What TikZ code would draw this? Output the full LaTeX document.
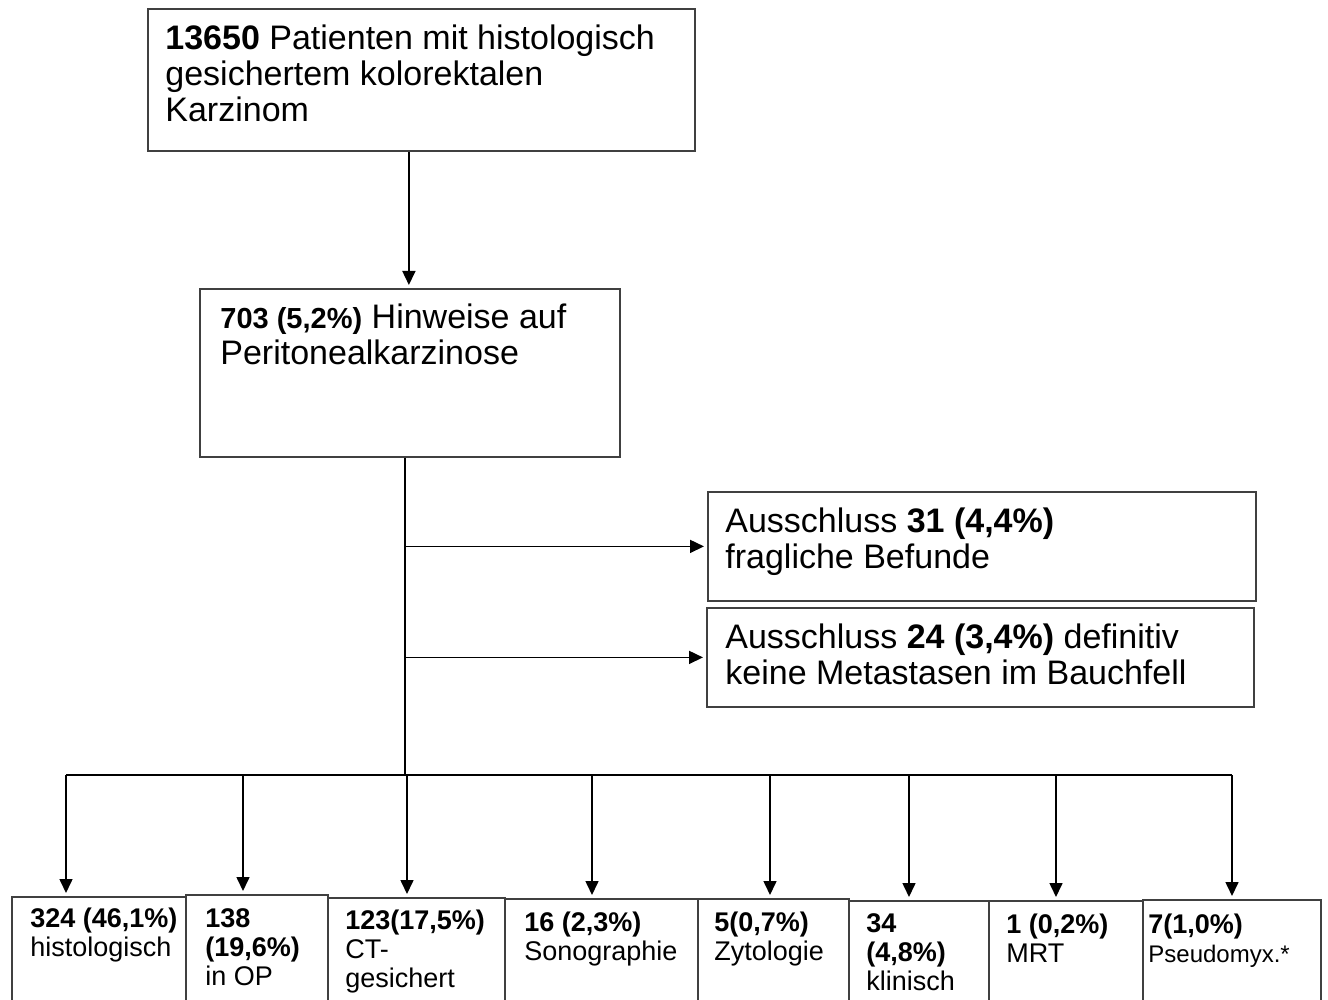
\documentclass[tikz,border=0pt]{standalone}
\usepackage{fontspec}
\setmainfont{Liberation Sans}
\usetikzlibrary{arrows.meta}
\begin{document}
\begin{tikzpicture}[x=0.5pt,y=-0.5pt,
 box/.style={draw=black!75, line width=0.9pt, fill=white, anchor=north west, inner sep=0pt},
 txt/.style={anchor=north west, inner sep=0pt, align=left},
 big/.style={font=\fontsize{17pt}{18pt}\selectfont},
 small/.style={font=\fontsize{13.5pt}{14.5pt}\selectfont},
 arr/.style={line width=0.8pt, -{Triangle[length=7pt,width=6.5pt]}, shorten >=1.5pt},
 ln/.style={line width=0.8pt}]
\useasboundingbox (0,0) rectangle (1328,1000);
\clip (0,0) rectangle (1328,1000);
% boxes
\node[box, minimum width=273.5pt, minimum height=71pt] (top) at (147,8) {};
\node[box, minimum width=210pt, minimum height=84pt] (second) at (199,288) {};
\node[box, minimum width=274pt, minimum height=54.5pt] (ex1) at (707,491) {};
\node[box, minimum width=273.5pt, minimum height=49.5pt] (ex2) at (706,607) {};
\node[box, minimum width=87pt, minimum height=57pt] (b1) at (11,896) {};
\node[box, minimum width=71pt, minimum height=58pt] (b2) at (185,894) {};
\node[box, minimum width=88.5pt, minimum height=57pt] (b3) at (327,897) {};
\node[box, minimum width=96.5pt, minimum height=57pt] (b4) at (504,898) {};
\node[box, minimum width=75.5pt, minimum height=57pt] (b5) at (697,898) {};
\node[box, minimum width=70pt, minimum height=57pt] (b6) at (848,900) {};
\node[box, minimum width=77pt, minimum height=57pt] (b7) at (988,900) {};
\node[box, minimum width=89pt, minimum height=57pt] (b8) at (1142,899) {};
% texts
\node[txt, big] (ttop) at (165,24) {\textbf{13650} Patienten mit histologisch\\gesichertem kolorektalen\\Karzinom};
\node[txt, big] (tsecond) at (220,303) {{\fontsize{14.5pt}{18pt}\selectfont\textbf{703 (5,2\%)}} Hinweise auf\\Peritonealkarzinose};
\node[txt, big] (tex1) at (725,507) {Ausschluss \textbf{31 (4,4\%)}\\fragliche Befunde};
\node[txt, big] (tex2) at (725,623) {Ausschluss \textbf{24 (3,4\%)} definitiv\\keine Metastasen im Bauchfell};
\node[txt, small] (t1) at (30,908) {\textbf{324 (46,1\%)}\\histologisch};
\node[txt, small] (t2) at (205,908) {\textbf{138}\\\textbf{(19,6\%)}\\in OP};
\node[txt, small] (t3) at (345,910) {\textbf{123(17,5\%)}\\CT-\\gesichert};
\node[txt, small] (t4) at (524,912) {\textbf{16 (2,3\%)}\\Sonographie};
\node[txt, small] (t5) at (714,912) {\textbf{5(0,7\%)}\\Zytologie};
\node[txt, small] (t6) at (866,913) {\textbf{34}\\\textbf{(4,8\%)}\\klinisch};
\node[txt, small] (t7) at (1006,914) {\textbf{1 (0,2\%)}\\MRT};
\node[txt, small] (t8) at (1148,914) {\textbf{7(1,0\%)}\\{\fontsize{12pt}{14.5pt}\selectfont Pseudomyx.*}};
% connectors
\draw[arr] ([xshift=-0.5pt]second.north |- top.south) -- ([xshift=-0.5pt]second.north);
\coordinate (busL) at (66,775);
\coordinate (busR) at (1232,775);
\coordinate (trunk) at ([xshift=-2.5pt]second.south);
\draw[ln] (trunk) -- (trunk |- busL);
\draw[arr] (trunk |- ex1.west) -- (ex1.west);
\draw[arr] (trunk |- ex2.west) -- (ex2.west);
\draw[ln] (busL) -- (busR);
\coordinate (d1) at (66,775);
\coordinate (d2) at (243,775);
\coordinate (d3) at (407,775);
\coordinate (d4) at (592,775);
\coordinate (d5) at (770,775);
\coordinate (d6) at (909,775);
\coordinate (d7) at (1056,775);
\coordinate (d8) at (1232,775);
\foreach \i in {1,...,8} {
  \draw[arr] (d\i) -- (d\i |- b\i.north);
}
\end{tikzpicture}
\end{document}
